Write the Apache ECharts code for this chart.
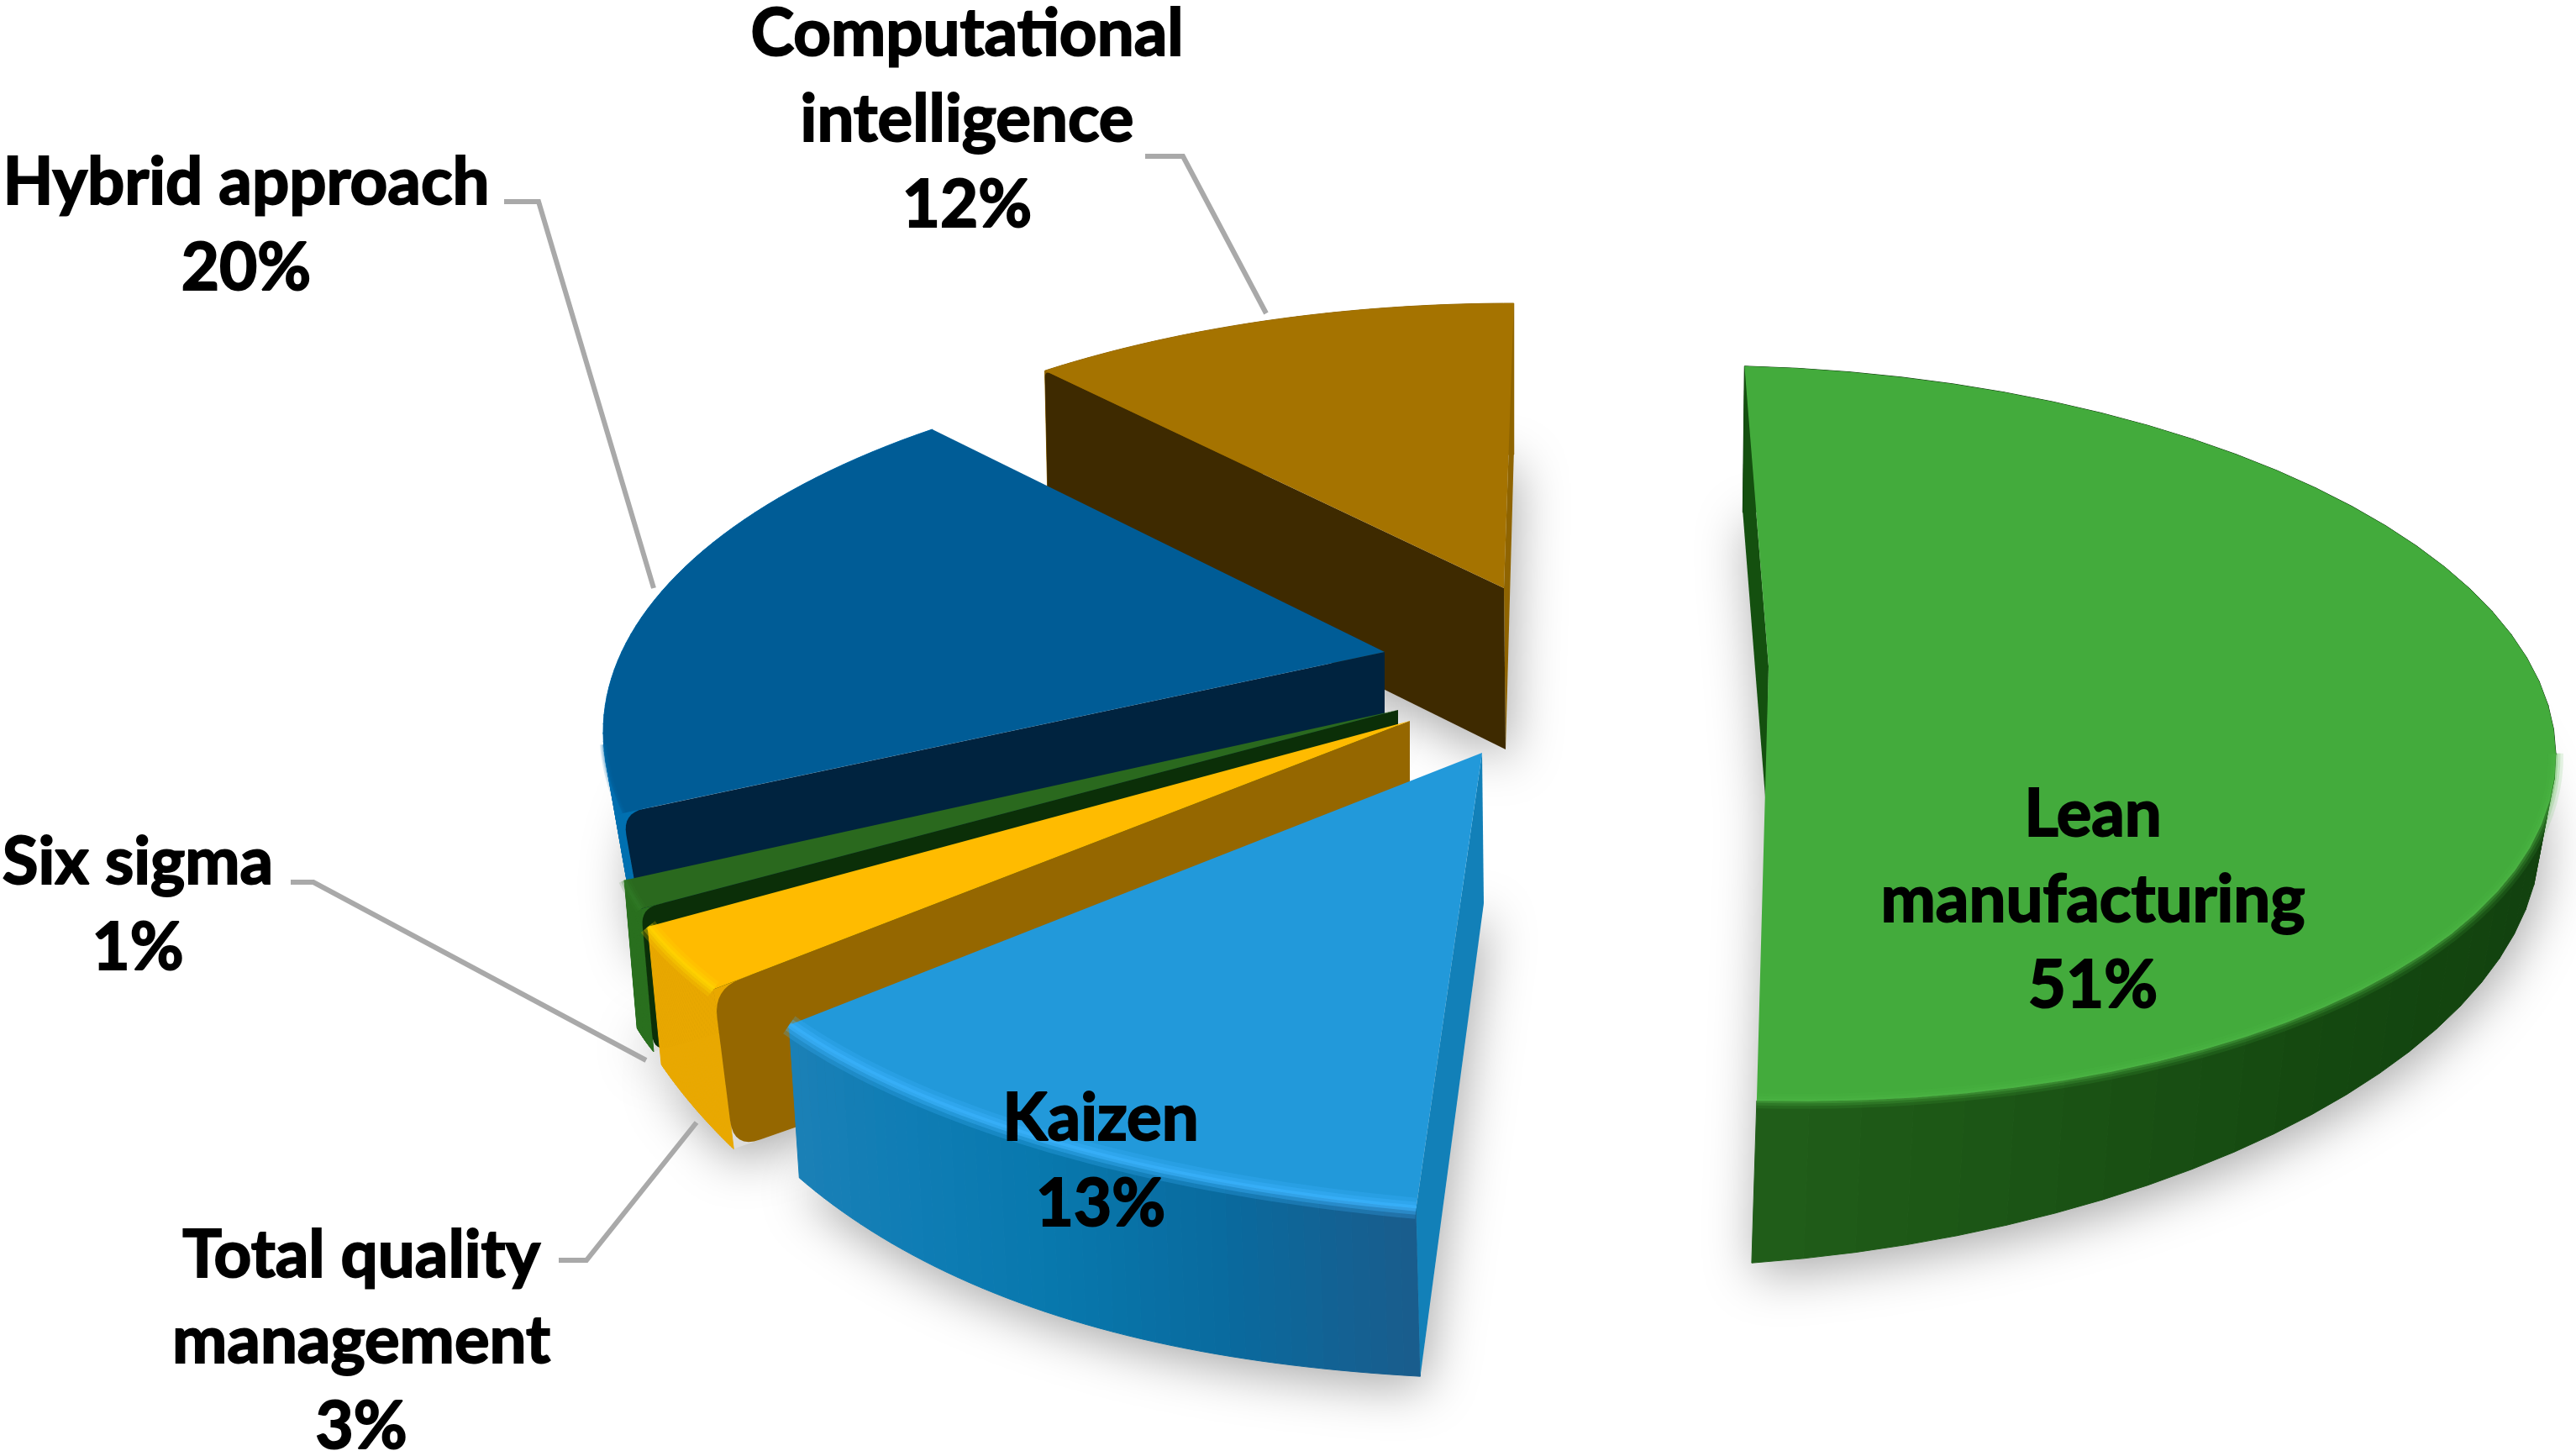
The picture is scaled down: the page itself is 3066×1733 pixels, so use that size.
<!DOCTYPE html>
<html>
<head>
<meta charset="utf-8">
<style>html,body{margin:0;padding:0;background:#fff}#c{width:3066px;height:1733px}</style>
<script src="https://cdn.jsdelivr.net/npm/echarts@6/dist/echarts.min.js"></script>
</head>
<body>
<div id="c"></div>
<script>
// ---- data ----
const categories = ['Lean manufacturing', 'Kaizen', 'Total quality management', 'Six sigma', 'Hybrid approach', 'Computational intelligence'];
const values = [51, 13, 3, 1, 20, 12];
const labelLines = [['Lean', 'manufacturing'], ['Kaizen'], ['Total quality', 'management'], ['Six sigma'], ['Hybrid approach'], ['Computational', 'intelligence']];

// ---- layout of the hand-tilted, exploded 3D pie (one perspective ellipse per slice) ----
const views = [
  {cx:2083,cy:873, rx:959, ry:437,k:27, turn:-90.4,warp:.98,  ax:2105,ay:793, abx:2102,aby:961,  d0:[-2,174], d1:[-6,193], bulge:[-15,-85]},
  {cx:1950,cy:1010,rx:1150,ry:440,k:0,  turn:-80.3,warp:1.03, ax:1764,ay:896, abx:1766,aby:1075, d0:[5,200],  d1:[12,182], bulge:[0,16]},
  {cx:1661,cy:949, rx:950, ry:440,k:0,  turn:-81.7,warp:1,    ax:1678,ay:858, abx:1678,aby:1086, d0:[24,190], d1:[16,164], bulge:[0,0]},
  {cx:1670,cy:951, rx:950, ry:440,k:0,  turn:-78.5,warp:1.28, ax:1664,ay:845, abx:1664,aby:1000, d0:[15,170], d1:[15,176], bulge:[0,0]},
  {cx:1668,cy:871, rx:950, ry:445,k:0,  turn:-77.4,warp:.925, ax:1648,ay:776, abx:1648,aby:850,  d0:[30,170], d1:[30,170], bulge:[0,0]},
  {cx:1802,cy:781, rx:950, ry:420,k:0,  turn:-82.8,warp:.833, ax:1790,ay:700, abx:1792,aby:892,  d0:[4,182],  d1:[0,180],  bulge:[0,0]}
];
const topColors = ['#43ab3c', '#2299da', '#ffbb00', '#2a691e', '#005c96', '#a57300'];
const cutColors = ['#14500f', '#1280b8', '#956700', '#0b2f08', '#00233f', '#3e2a00'];
const farCutColors = [null, null, null, null, null, '#8f6400'];
const cutRounding = [0, 0, 34, 20, 26, 8];
const wallColors = [
  ['#103c0e', '#103c0e', '#113f0e', '#144810', '#215e19'],
  ['#1a5c8c', '#096a9e', '#0878ad', '#0f7db5', '#1b80b6'],
  ['#e9a800', '#e9a800'],
  ['#2a701f', '#2a701f'],
  ['#0070b0', '#0070b0'],
  ['#8f6400', '#8f6400']
];
const glowColors = ['#52ba4a', '#3db5ff', '#ffd800', '#33802a', '#006eae', null];
const glowStrength = [.55, 1, .9, .6, .6, 0];
const glowWidth = [1, 1.4, 1.2, .8, .5, 0];
const glowRange = [[.5, 1], [0, 1], [0, 1], [0, 1], [0, .16], [0, 0]];

const labelSpots = [[2491, 1072], [1310, 1383], [430, 1597], [164, 1078], [293, 269], [1151, 143]];
const leaders = [null, null,
  [[665, 1500], [698, 1500], [829, 1336]],
  [[346, 1050], [373, 1050], [769, 1262]],
  [[600, 240], [641, 240], [778, 700]],
  [[1363, 186], [1408, 186], [1507, 373]]
];
const LINE_COLOR = '#a9a9a9';
const FONT = 'Lato';
const FONT_SIZE = 78;
const LINE_HEIGHT = 102;

// ---- geometry from the values ----
const total = values.reduce((a, b) => a + b, 0);
const starts = [];
values.reduce((sum, v, i) => { starts[i] = sum / total * 360; return sum + v; }, 0);

const rad = d => d * Math.PI / 180;
function rim(i, u) {
  const g = views[i];
  const sweep = values[i] / total * 360 * g.warp;
  const t = rad(starts[i] + g.turn + u * sweep);
  return [g.cx + g.rx * Math.cos(t), g.cy + g.ry * Math.sin(t) + g.k * Math.cos(t)];
}
function foot(i, u) {
  const g = views[i], p = rim(i, u), b = Math.sin(Math.PI * u);
  return [p[0] + g.d0[0] + (g.d1[0] - g.d0[0]) * u + g.bulge[0] * b,
          p[1] + g.d0[1] + (g.d1[1] - g.d0[1]) * u + g.bulge[1] * b];
}
const STEPS = 48;
function arcPts(fn, i, from, to) {
  const pts = [];
  const a = from === undefined ? 0 : from, b = to === undefined ? 1 : to;
  for (let s = 0; s <= STEPS; s++) pts.push(fn(i, a + (b - a) * s / STEPS));
  return pts;
}
function along(p, q, r) {
  const dx = q[0] - p[0], dy = q[1] - p[1], len = Math.hypot(dx, dy);
  return [p[0] + dx / len * r, p[1] + dy / len * r];
}
// replaces listed polygon corners by a small quadratic curve
function rounded(points, corners, r) {
  const out = [], n = points.length;
  points.forEach((p, idx) => {
    if (!r || corners.indexOf(idx) < 0) { out.push(p); return; }
    const a = along(p, points[(idx + n - 1) % n], r), b = along(p, points[(idx + 1) % n], r);
    for (let s = 0; s <= 8; s++) {
      const w = s / 8, v = 1 - w;
      out.push([v * v * a[0] + 2 * v * w * p[0] + w * w * b[0], v * v * a[1] + 2 * v * w * p[1] + w * w * b[1]]);
    }
  });
  return out;
}

function renderShadow(params) {
  const i = params.dataIndex, g = views[i];
  const pts = arcPts(foot, i).concat([[g.abx, g.aby]]);
  return {
    type: 'polygon', shape: {points: pts}, silent: true,
    style: {fill: '#dddddd', shadowBlur: 60, shadowOffsetX: 4, shadowOffsetY: 14, shadowColor: 'rgba(0,0,0,0.34)'}
  };
}

function renderSlice(params) {
  const i = params.dataIndex, g = views[i];
  const base = (categories.length - i) * 20;
  const kids = [];
  // outer wall as shaded strips
  for (let s = 0; s < STEPS; s++) {
    const u0 = s / STEPS, u1 = (s + 1) / STEPS;
    const c = echarts.color.lerp((u0 + u1) / 2, wallColors[i]);
    kids.push({type: 'polygon', z2: base, silent: true,
      shape: {points: [rim(i, u0), rim(i, u1), foot(i, u1), foot(i, u0)]},
      style: {fill: c, stroke: c, lineWidth: 1}});
  }
  // cut faces
  const apex = [g.ax, g.ay], apexB = [g.abx, g.aby];
  if (farCutColors[i]) {
    kids.push({type: 'polygon', z2: base + 1, silent: true,
      shape: {points: [rim(i, 1), apex, apexB, foot(i, 1)]},
      style: {fill: farCutColors[i]}});
  }
  const r0 = rim(i, 0), f0 = foot(i, 0), ro = cutRounding[i];
  if (ro) {
    // wall colour behind the rounded corner of the cut face
    const w0 = echarts.color.lerp(0, wallColors[i]);
    kids.push({type: 'polygon', z2: base + 1, silent: true,
      shape: {points: [r0, along(r0, apex, ro * 1.4), along(r0, f0, ro * 1.4)]},
      style: {fill: w0}});
  }
  kids.push({type: 'polygon', z2: base + 2, silent: true,
    shape: {points: rounded([r0, apex, apexB, f0], [0, 3], ro)},
    style: {fill: cutColors[i]}});
  // top face
  const rimPts = arcPts(rim, i);
  kids.push({type: 'polygon', z2: base + 3, silent: true,
    shape: {points: [apex].concat(rimPts)},
    style: {fill: topColors[i]}});
  // soft bevel along the front of the rim
  if (glowColors[i]) {
    const bevel = arcPts(rim, i, glowRange[i][0], glowRange[i][1]);
    [[18, .25], [11, .35], [5, .55]].forEach((w, n) => {
      kids.push({type: 'polyline', z2: base + 4 + n, silent: true,
        shape: {points: bevel},
        style: {fill: 'none', stroke: glowColors[i], lineWidth: w[0] * glowWidth[i], opacity: w[1] * glowStrength[i]}});
    });
  }
  return {type: 'group', children: kids};
}

function renderLabel(params, api) {
  const i = params.dataIndex;
  const kids = [];
  if (leaders[i]) {
    kids.push({type: 'polyline', silent: true, shape: {points: leaders[i]},
      style: {fill: 'none', stroke: LINE_COLOR, lineWidth: 6}});
  }
  kids.push({type: 'text', silent: true, z2: 10,
    style: {
      x: labelSpots[i][0], y: labelSpots[i][1],
      text: labelLines[i].concat([api.value(0) + '%']).join('\n'),
      fontFamily: FONT, fontWeight: 700, fontSize: FONT_SIZE, lineHeight: LINE_HEIGHT,
      fill: '#000', stroke: '#000', lineWidth: 2, align: 'center', verticalAlign: 'middle'
    }});
  return {type: 'group', children: kids};
}

const chart = echarts.init(document.getElementById('c'), null, {renderer: 'canvas'});
const seriesData = categories.map((name, i) => ({name, value: values[i]}));
chart.setOption({
  backgroundColor: '#ffffff',
  animation: false,
  series: [
    {type: 'custom', coordinateSystem: 'none', z: 1, data: seriesData, renderItem: renderShadow, silent: true},
    {type: 'custom', coordinateSystem: 'none', z: 2, data: seriesData, renderItem: renderSlice, silent: true},
    {type: 'custom', coordinateSystem: 'none', z: 3, data: seriesData, renderItem: renderLabel, silent: true}
  ]
});
</script>
</body>
</html>
